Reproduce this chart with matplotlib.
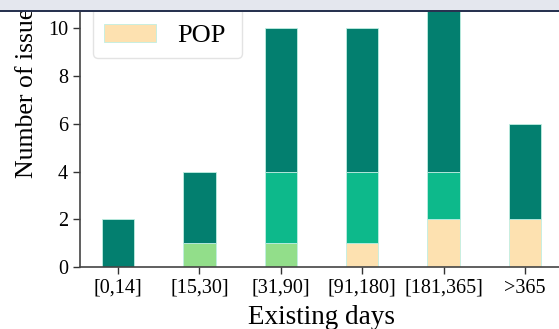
import matplotlib
matplotlib.use("Agg")
import matplotlib.pyplot as plt
import numpy as np
from matplotlib.patches import Rectangle

# Data (stacked counts per bucket)
categories = ['[0,14]', '[15,30]', '[31,90]', '[91,180]', '[181,365]', '>365']
light_vals = [0, 1, 1, 0, 0, 0]
pop_vals = [0, 0, 0, 1, 2, 2]
mid_vals = [0, 0, 3, 3, 2, 0]
dark_vals = [2, 3, 6, 6, 7, 4]

# hidden legend names (cut off in the picture)
series_names = ['ENV', 'API', 'LIB', 'POP']

plt.rcParams['font.family'] = ['Liberation Serif', 'DejaVu Serif']

W, H = 559, 329
fig = plt.figure(figsize=(W / 100, H / 100), dpi=100)

# axes placed so that its top runs past the canvas edge
left_px, zero_px = 80, 267
unit_y = 23.85
unit_x = 81.4
x0, x1 = -0.467, 5.47
y_top = 12
ax_w = (x1 - x0) * unit_x
ax_h = y_top * unit_y
ax = fig.add_axes([left_px / W, (H - zero_px) / H, ax_w / W, ax_h / H])

x = np.arange(len(categories))
w = 0.4
edge = dict(edgecolor='#bfeee2', linewidth=0.6)
c_dark, c_mid, c_light, c_pop = '#037f6f', '#0db98b', '#92de8a', '#fde1b0'

b_light = ax.bar(x, light_vals, w, color=c_light, **edge)
base = np.array(light_vals)
b_pop = ax.bar(x, pop_vals, w, bottom=base, color=c_pop, **edge)
base = base + np.array(pop_vals)
b_mid = ax.bar(x, mid_vals, w, bottom=base, color=c_mid, **edge)
base = base + np.array(mid_vals)
b_dark = ax.bar(x, dark_vals, w, bottom=base, color=c_dark, **edge)

ax.set_xlim(x0, x1)
ax.set_ylim(0, y_top)
ax.set_yticks([0, 2, 4, 6, 8, 10])
ax.set_xticks(x)
ax.set_xticklabels(categories)
ax.tick_params(labelsize=14.5, length=5, width=1, color='#333333')
for s in ['top', 'right']:
    ax.spines[s].set_visible(False)
for s in ['left', 'bottom']:
    ax.spines[s].set_color('#444444')
    ax.spines[s].set_linewidth(1.2)

ax.set_xlabel('Existing days', fontsize=19.5, labelpad=5)
ax.set_ylabel('Number of issues', fontsize=18.5)
ax.yaxis.set_label_coords((38 - left_px) / ax_w, (zero_px - 88) / ax_h)

leg = ax.legend([b_dark, b_mid, b_light, b_pop], series_names,
                loc='lower left', bbox_to_anchor=(93 / W, (H - 58) / H),
                bbox_transform=fig.transFigure, borderaxespad=0,
                fontsize=19, frameon=True, fancybox=True)
leg.get_frame().set_edgecolor('#dddddd')

# grey band on top of the picture
fig.patches.append(Rectangle((0, (H - 10) / H), 1, 10 / H, transform=fig.transFigure,
                             facecolor='#e4e7ee', edgecolor='none', zorder=10))
fig.patches.append(Rectangle((0, (H - 12) / H), 1, 2 / H, transform=fig.transFigure,
                             facecolor='#283250', edgecolor='none', zorder=10))

fig.savefig('out.png', dpi=100)
